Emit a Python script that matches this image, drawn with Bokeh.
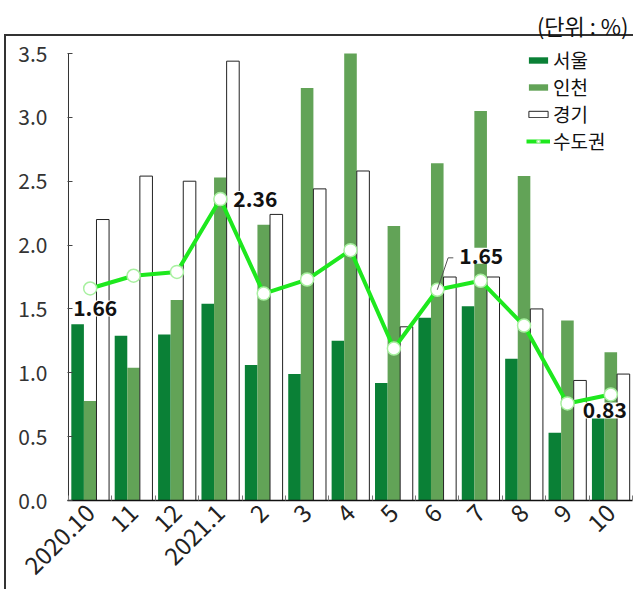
import math
from bokeh.plotting import figure
from bokeh.models import (Range1d, FixedTicker, Legend, LegendItem, Label, Title,
                          PrintfTickFormatter)
from bokeh.embed import file_html
from bokeh.resources import INLINE

months = ["2020.10", "11", "12", "2021.1", "2", "3", "4", "5", "6", "7", "8", "9", "10"]
seoul = [1.38, 1.29, 1.30, 1.54, 1.06, 0.99, 1.25, 0.92, 1.43, 1.52, 1.11, 0.53, 0.66]
incheon = [0.78, 1.04, 1.57, 2.53, 2.16, 3.23, 3.50, 2.15, 2.64, 3.05, 2.54, 1.41, 1.16]
gyeonggi = [2.20, 2.54, 2.50, 3.44, 2.24, 2.44, 2.58, 1.36, 1.75, 1.75, 1.50, 0.94, 0.99]
capital = [1.66, 1.76, 1.79, 2.36, 1.62, 1.73, 1.96, 1.19, 1.65, 1.72, 1.37, 0.76, 0.83]
y_ticks = [0.0, 0.5, 1.0, 1.5, 2.0, 2.5, 3.0, 3.5]
series_names = ["서울", "인천", "경기", "수도권"]
unit_text = "(단위 : %)"
labeled_idx = [0, 3, 8, 12]

FONT = "Noto Sans CJK KR"
C_SEOUL = "#0A8036"
C_INCHEON = "#62A357"
C_LINE = "#1EE81E"

idx = list(range(len(months)))
bw = 0.29
y_top = max(y_ticks)

p = figure(width=633, height=589,
           x_range=Range1d(-0.523, len(months) - 0.5),
           y_range=Range1d(0, y_top * 455.0 / 447.0),
           output_backend="svg", toolbar_location=None,
           min_border_left=67, min_border_right=1, min_border_top=45,
           min_border_bottom=89)
p.outline_line_color = None
p.xgrid.visible = False
p.ygrid.visible = False
p.background_fill_color = "white"
p.border_fill_color = None
# outer box (top and left edges) drawn as the figure's CSS background
p.styles = {
    "background-color": "white",
    "background-image": "linear-gradient(#333333, #333333), linear-gradient(#333333, #333333)",
    "background-size": "2px 600px, 700px 2px",
    "background-position": "4px 34px, 4px 34px",
    "background-repeat": "no-repeat",
}

r1 = p.vbar(x=[i - bw for i in idx], top=seoul, width=bw, fill_color=C_SEOUL, line_color=None)
r2 = p.vbar(x=idx, top=incheon, width=bw, fill_color=C_INCHEON, line_color=None)
r3 = p.vbar(x=[i + bw for i in idx], top=gyeonggi, width=bw, fill_color="white",
            line_color="#222222", line_width=1)
r4 = p.line(x=idx, y=capital, line_color=C_LINE, line_width=4)
r5 = p.scatter(x=idx, y=capital, size=13, fill_color="white", line_color="#A8F0A0",
               line_width=1.5)

# y-axis line from 0 to the top tick only
p.segment(x0=[-0.5], y0=[0], x1=[-0.5], y1=[y_top], line_color="#333333", line_width=1)

# leader line for the 1.65 label
k = 8
p.line(x=[idx[k], idx[k] + 0.25, idx[k] + 0.37],
       y=[capital[k], capital[k] + 0.25, capital[k] + 0.25],
       line_color="#555555", line_width=1)

offsets = {0: (-17, -20), 3: (13, 0), 8: (22, 34), 12: (-28, -16)}
for i in labeled_idx:
    dx, dy = offsets[i]
    p.add_layout(Label(x=idx[i], y=capital[i], x_offset=dx, y_offset=dy,
                       text=f"{capital[i]:.2f}", text_font=FONT, text_font_style="bold",
                       text_font_size="21px", text_color="#111111",
                       text_align="left", text_baseline="middle",
                       background_fill_color="white", background_fill_alpha=1.0))

# axes
xa = p.xaxis[0]
xa.ticker = FixedTicker(ticks=idx, minor_ticks=[i - 0.5 for i in range(len(months) + 1)])
xa.major_label_overrides = {i: m for i, m in zip(idx, months)}
xa.major_label_orientation = math.pi / 4
xa.major_tick_in = 0
xa.major_tick_out = 0
xa.minor_tick_in = 5
xa.minor_tick_out = 0
xa.minor_tick_line_color = "#777777"
xa.axis_line_color = "#111111"
xa.axis_line_width = 1.5
xa.major_label_text_font = FONT
xa.major_label_text_font_size = "24px"
xa.major_label_text_color = "#222222"
xa.major_label_standoff = 8

ya = p.yaxis[0]
ya.ticker = FixedTicker(ticks=y_ticks)
ya.formatter = PrintfTickFormatter(format="%.1f")
ya.major_tick_in = 5
ya.major_tick_out = 0
ya.minor_tick_in = 0
ya.minor_tick_out = 0
ya.major_tick_line_color = "#444444"
ya.axis_line_color = None
ya.major_label_text_font = FONT
ya.major_label_text_font_size = "21px"
ya.major_label_text_color = "#333333"
ya.major_label_standoff = 20

legend = Legend(items=[LegendItem(label=series_names[0], renderers=[r1]),
                       LegendItem(label=series_names[1], renderers=[r2]),
                       LegendItem(label=series_names[2], renderers=[r3]),
                       LegendItem(label=series_names[3], renderers=[r4, r5])],
                location=(459, 346))
legend.margin = 0
legend.padding = 0
legend.spacing = -4
legend.glyph_width = 24
legend.glyph_height = 8
legend.label_standoff = 3
legend.label_height = 18
legend.label_text_font = FONT
legend.label_text_font_size = "19px"
legend.label_text_color = "#111111"
legend.background_fill_alpha = 0
legend.border_line_color = None
p.add_layout(legend)

p.add_layout(Title(text=unit_text, align="right", offset=4, standoff=10,
                   text_font=FONT, text_font_size="22px", text_font_style="normal",
                   text_color="#111111"), "above")

open("out.html", "w").write(file_html(p, INLINE))
